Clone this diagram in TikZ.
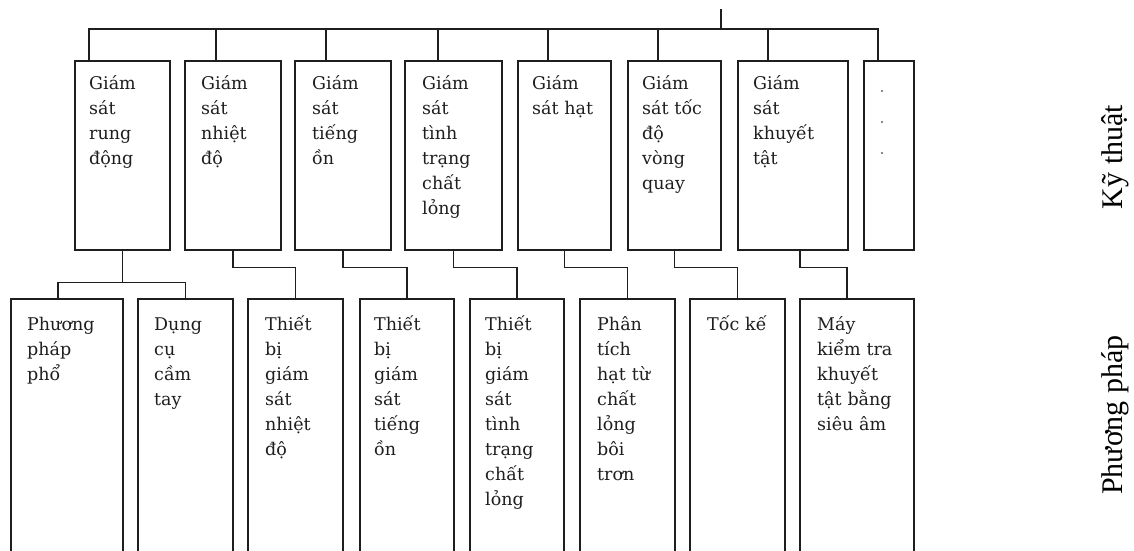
\documentclass[tikz,border=0pt]{standalone}
\usepackage{fontspec}
\setmainfont{DejaVu Serif}
\newfontfamily\sidefont{Liberation Serif}
\definecolor{inkgray}{RGB}{30, 30, 30}
\usetikzlibrary{positioning}

\begin{document}
\begin{tikzpicture}[x=1pt,y=-1pt,
    box/.style={draw=inkgray, line width=1.6pt, anchor=north west, inner sep=0pt},
    tbox/.style={box, minimum height=189},
    bbox/.style={box, minimum height=270},
    boxtext/.style={anchor=base west, align=left, text width=95pt, inner sep=0pt,
        text=inkgray, font=\fontsize{17.5}{25}\selectfont},
    sidetext/.style={rotate=90, inner sep=0pt, font=\sidefont\fontsize{30}{32}\selectfont},
    link/.style={draw=inkgray, line width=1.6pt}]
    \useasboundingbox (0,0) rectangle (1134,550);
    \clip (0,0) rectangle (1134,550);

    % top row: monitoring techniques
    \node[tbox, minimum width=95] (k1) at (74,60) {};
    \node[tbox, minimum width=96] (k2) at (184,60) {};
    \node[tbox, minimum width=96] (k3) at (294,60) {};
    \node[tbox, minimum width=97] (k4) at (404,60) {};
    \node[tbox, minimum width=93] (k5) at (517,60) {};
    \node[tbox, minimum width=93] (k6) at (627,60) {};
    \node[tbox, minimum width=110] (k7) at (737,60) {};
    \node[tbox, minimum width=50] (k8) at (863,60) {};

    \node[boxtext] (k1t) at ([shift={(15,29)}]k1.north west) {Giám\\sát\\rung\\động};
    \node[boxtext] (k2t) at ([shift={(17,29)}]k2.north west) {Giám\\sát\\nhiệt\\độ};
    \node[boxtext] (k3t) at ([shift={(18,29)}]k3.north west) {Giám\\sát\\tiếng\\ồn};
    \node[boxtext] (k4t) at ([shift={(18,29)}]k4.north west) {Giám\\sát\\tình\\trạng\\chất\\lỏng};
    \node[boxtext] (k5t) at ([shift={(15,29)}]k5.north west) {Giám\\sát hạt};
    \node[boxtext] (k6t) at ([shift={(15,29)}]k6.north west) {Giám\\sát tốc\\độ\\vòng\\quay};
    \node[boxtext] (k7t) at ([shift={(16,29)}]k7.north west) {Giám\\sát\\khuyết\\tật};
    \foreach \i in {0,1,2}
        \fill[inkgray!70] ([shift={(19,31+31*\i)}]k8.north west) circle (1.1);

    % bottom row: methods
    \node[bbox, minimum width=112] (p1) at (10,298) {};
    \node[bbox, minimum width=95] (p2) at (137,298) {};
    \node[bbox, minimum width=95] (p3) at (247,298) {};
    \node[bbox, minimum width=94] (p4) at (359,298) {};
    \node[bbox, minimum width=94] (p5) at (469,298) {};
    \node[bbox, minimum width=95] (p6) at (579,298) {};
    \node[bbox, minimum width=95] (p7) at (689,298) {};
    \node[bbox, minimum width=114] (p8) at (799,298) {};

    \node[boxtext] (p1t) at ([shift={(17,32)}]p1.north west) {Phương\\pháp\\phổ};
    \node[boxtext] (p2t) at ([shift={(17,32)}]p2.north west) {Dụng\\cụ\\cầm\\tay};
    \node[boxtext] (p3t) at ([shift={(18,32)}]p3.north west) {Thiết\\bị\\giám\\sát\\nhiệt\\độ};
    \node[boxtext] (p4t) at ([shift={(15,32)}]p4.north west) {Thiết\\bị\\giám\\sát\\tiếng\\ồn};
    \node[boxtext] (p5t) at ([shift={(16,32)}]p5.north west) {Thiết\\bị\\giám\\sát\\tình\\trạng\\chất\\lỏng};
    \node[boxtext] (p6t) at ([shift={(18,32)}]p6.north west) {Phân\\tích\\hạt từ\\chất\\lỏng\\bôi\\trơn};
    \node[boxtext] (p7t) at ([shift={(18,32)}]p7.north west) {Tốc kế};
    \node[boxtext] (p8t) at ([shift={(18,32)}]p8.north west) {Máy\\kiểm tra\\khuyết\\tật bằng\\siêu âm};

    % side labels
    \node[sidetext] (kythuat) at (1115,157) {Kỹ thuật};
    \node[sidetext] (phuongphap) at (1115,415) {Phương pháp};

    % bus from the root down to the techniques
    \coordinate (root) at (721,9);
    \draw[link] (root) -- ++(0,20);
    \draw[link] ([xshift=15pt]k1.north west) |- ([shift={(15,-31)}]k8.north west) -- ([xshift=15pt]k8.north west);
    \foreach \n/\dx in {k2/32,k3/32,k4/34,k5/31,k6/31,k7/31}
        \draw[link] ([xshift=\dx pt]\n.north west) -- ++(0,-31);

    % techniques to methods
    \draw[link] (k1.south) -- ++(0,32) coordinate (fork);
    \draw[link] ([xshift=48pt]p1.north west) |- (fork) -| (p2.north);
    \foreach \a/\b in {k2/p3,k3/p4,k4/p5,k5/p6,k6/p7}
        \draw[link] (\a.south) -- ++(0,17) -| (\b.north);
    \draw[link] ([xshift=7pt]k7.south) -- ++(0,17) -| ([xshift=48pt]p8.north west);
\end{tikzpicture}
\end{document}
